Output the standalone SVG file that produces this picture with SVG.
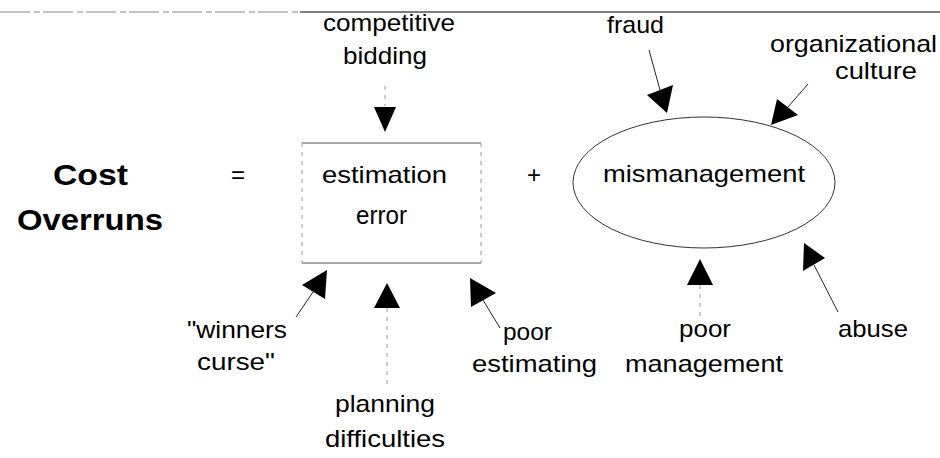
<svg xmlns="http://www.w3.org/2000/svg" width="940" height="458" viewBox="0 0 940 458">
<style>
text{font-family:"Liberation Sans",Arial,sans-serif;font-size:24px;fill:#000}
.b{font-weight:bold;font-size:30px}
.head{fill:#000;stroke:none}
.ln{stroke:#222;stroke-width:1;fill:none}
.dash{stroke:#999;stroke-width:1;stroke-dasharray:4 5;fill:none}
</style>
<rect width="940" height="458" fill="#fff"/>
<line x1="0" y1="12" x2="300" y2="12" stroke="#888" stroke-width="1.2" stroke-dasharray="30 4 6 3"/>
<line x1="300" y1="12" x2="940" y2="12" stroke="#555" stroke-width="1.3"/>

<g id="cost-overruns">
<text class="b" x="53" y="185" textLength="75" lengthAdjust="spacingAndGlyphs">Cost</text>
<text class="b" x="17" y="230" textLength="146" lengthAdjust="spacingAndGlyphs">Overruns</text>
</g>
<g id="equals"><text x="238" y="183" text-anchor="middle">=</text></g>
<g id="estimation-error">
<line x1="302" y1="143" x2="481" y2="143" stroke="#555" stroke-width="1"/>
<line x1="302" y1="263" x2="481" y2="263" stroke="#555" stroke-width="1"/>
<line x1="302" y1="143" x2="302" y2="263" class="dash"/>
<line x1="481" y1="143" x2="481" y2="263" class="dash"/>
<text x="322" y="182.5" textLength="125" lengthAdjust="spacingAndGlyphs">estimation</text>
<text x="356" y="224" style="font-size:25px" textLength="51" lengthAdjust="spacingAndGlyphs">error</text>
</g>
<g id="plus"><text x="534" y="183" text-anchor="middle">+</text></g>
<g id="mismanagement">
<ellipse cx="704" cy="182.5" rx="131" ry="65.5" fill="none" stroke="#333" stroke-width="1"/>
<text x="603" y="182" textLength="202" lengthAdjust="spacingAndGlyphs">mismanagement</text>
</g>
<g id="competitive-bidding">
<text x="323" y="31" textLength="132" lengthAdjust="spacingAndGlyphs">competitive</text>
<text x="343" y="64" textLength="84" lengthAdjust="spacingAndGlyphs">bidding</text>
</g>
<g id="fraud"><text x="607" y="33" textLength="57" lengthAdjust="spacingAndGlyphs">fraud</text></g>
<g id="organizational-culture">
<text x="770" y="52" textLength="167" lengthAdjust="spacingAndGlyphs">organizational</text>
<text x="835" y="79" textLength="82" lengthAdjust="spacingAndGlyphs">culture</text>
</g>
<g id="winners-curse">
<text x="187" y="338" textLength="100" lengthAdjust="spacingAndGlyphs">"winners</text>
<text x="197" y="370" textLength="78" lengthAdjust="spacingAndGlyphs">curse"</text>
</g>
<g id="planning-difficulties">
<text x="335" y="412" textLength="100" lengthAdjust="spacingAndGlyphs">planning</text>
<text x="325" y="447" textLength="120" lengthAdjust="spacingAndGlyphs">difficulties</text>
</g>
<g id="poor-estimating">
<text x="503" y="340" textLength="49" lengthAdjust="spacingAndGlyphs">poor</text>
<text x="472" y="372" textLength="125" lengthAdjust="spacingAndGlyphs">estimating</text>
</g>
<g id="poor-management">
<text x="679" y="337" textLength="52" lengthAdjust="spacingAndGlyphs">poor</text>
<text x="625" y="372" textLength="158" lengthAdjust="spacingAndGlyphs">management</text>
</g>
<g id="abuse"><text x="838" y="337" textLength="70" lengthAdjust="spacingAndGlyphs">abuse</text></g>

<g id="connectors">
<line x1="385" y1="86" x2="385" y2="106" class="dash"/>
<polygon class="head" points="374,107 396,107 385,132"/>
<line class="ln" x1="649" y1="50" x2="660" y2="90"/>
<polygon class="head" points="647,95 673,85 667,113"/>
<line class="ln" x1="808" y1="84" x2="788" y2="107"/>
<polygon class="head" points="777,99 798,115 771,125"/>
<line class="ln" x1="296" y1="317" x2="313" y2="292"/>
<polygon class="head" points="302,285 325,299 327,270"/>
<line x1="387" y1="308" x2="387" y2="388" class="dash"/>
<polygon class="head" points="374,308 400,308 387,283"/>
<line class="ln" x1="500" y1="328" x2="483" y2="300"/>
<polygon class="head" points="471,307 496,293 470,278"/>
<line x1="700" y1="285" x2="700" y2="318" class="dash"/>
<polygon class="head" points="687,285 713,285 700,259"/>
<line class="ln" x1="838" y1="312" x2="814" y2="265"/>
<polygon class="head" points="803,271 825,258 804,243"/>
</g>
</svg>
